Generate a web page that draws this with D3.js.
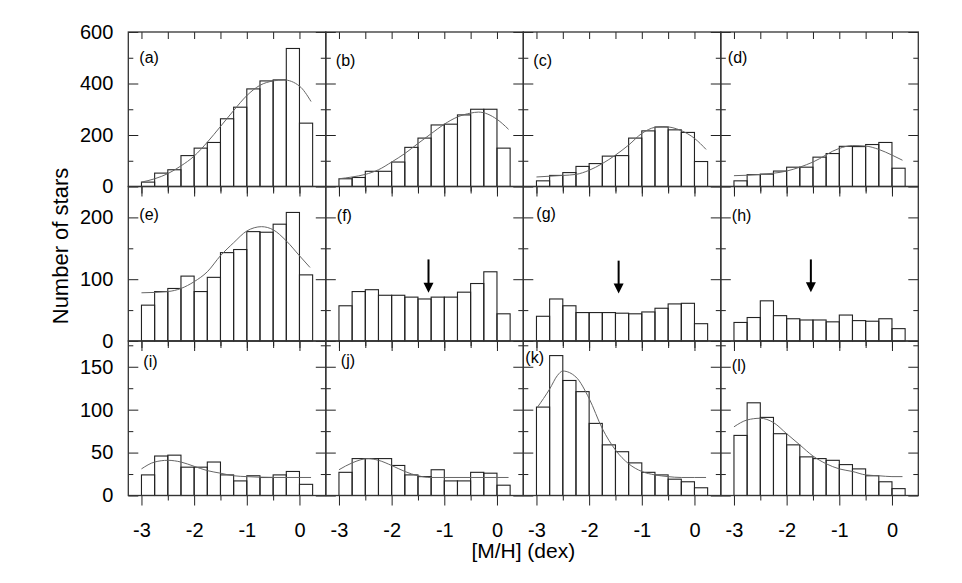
<!DOCTYPE html>
<html>
<head>
<meta charset="utf-8">
<script src="https://cdn.jsdelivr.net/npm/d3@7"></script>
<style>
  body { margin: 0; background: #fff; }
  svg { display: block; font-family: "Liberation Sans", Arial, sans-serif; }
</style>
</head>
<body>
<div id="chart"></div>
<script>
// bins of 0.25 dex, left edges
var binLo = [-3, -2.75, -2.5, -2.25, -2, -1.75, -1.5, -1.25, -1, -0.75, -0.5, -0.25, 0];
var binW = 0.25;
var panelIds = ["a", "b", "c", "d", "e", "f", "g", "h", "i", "j", "k", "l"];

// counts per bin
var countsA = [17, 52, 65, 120, 149, 171, 263, 308, 379, 410, 414, 536, 246];
var countsB = [30, 35, 59, 59, 95, 152, 188, 239, 242, 278, 300, 300, 149];
var countsC = [22, 43, 54, 78, 89, 118, 120, 188, 216, 231, 220, 210, 97];
var countsD = [22, 46, 48, 60, 75, 75, 114, 128, 156, 155, 163, 171, 71];
var countsE = [58, 80, 85, 105, 80, 103, 143, 148, 177, 176, 189, 208, 107];
var countsF = [57, 80, 83, 74, 74, 71, 68, 71, 71, 79, 93, 112, 44];
var countsG = [40, 68, 57, 46, 46, 46, 45, 44, 47, 53, 60, 61, 28];
var countsH = [30, 38, 65, 41, 36, 34, 34, 31, 42, 33, 32, 36, 20];
var countsI = [24, 46, 47, 33, 33, 39, 24, 17, 23, 21, 24, 28, 13];
var countsJ = [27, 43, 43, 43, 35, 24, 22, 30, 17, 17, 27, 26, 12];
var countsK = [103, 163, 134, 121, 84, 59, 51, 38, 27, 24, 19, 16, 9];
var countsL = [70, 108, 91, 72, 59, 45, 43, 41, 36, 31, 23, 16, 8];

// fitted curves, [M/H] vs number
var fitA = [[-3, 17], [-2.75, 30], [-2.5, 50], [-2.25, 80], [-2, 118], [-1.75, 172], [-1.5, 233], [-1.25, 295], [-1, 353], [-0.75, 393], [-0.5, 410], [-0.3, 414], [0, 390], [0.22, 330]];
var fitB = [[-3, 30], [-2.75, 37], [-2.5, 47], [-2.25, 65], [-2, 95], [-1.75, 128], [-1.5, 167], [-1.25, 205], [-1, 242], [-0.75, 270], [-0.5, 285], [-0.35, 289], [0, 261], [0.22, 222]];
var fitC = [[-3, 37], [-2.5, 43], [-2.25, 47], [-2, 63], [-1.75, 89], [-1.5, 122], [-1.25, 161], [-1, 206], [-0.75, 230], [-0.6, 233], [-0.25, 217], [0, 187], [0.22, 144]];
var fitD = [[-3, 42], [-2.5, 47], [-2, 60], [-1.5, 95], [-1, 148], [-0.75, 159], [-0.5, 157], [-0.25, 144], [0, 122], [0.2, 102]];
var fitE = [[-3, 78], [-2.5, 80], [-2.25, 85], [-2, 96], [-1.75, 112], [-1.5, 138], [-1.25, 159], [-1, 178], [-0.72, 185], [-0.5, 180], [-0.25, 162], [0, 138], [0.2, 119]];
var fitI = [[-3, 31], [-2.75, 39], [-2.5, 41], [-2.25, 39], [-2, 34], [-1.75, 29], [-1.5, 26], [-1.25, 23], [-1, 22], [-0.5, 21], [0, 21], [0.22, 21]];
var fitJ = [[-3, 30], [-2.75, 38], [-2.45, 43], [-2.25, 41], [-2, 35], [-1.75, 28], [-1.5, 23], [-1.25, 21], [-1, 21], [0, 21], [0.22, 21]];
var fitK = [[-2.98, 103], [-2.75, 124], [-2.6, 140], [-2.5, 145], [-2.25, 138], [-2, 113], [-1.75, 78], [-1.5, 53], [-1.25, 37], [-1, 28], [-0.75, 24], [-0.5, 22], [-0.25, 21], [0, 21], [0.22, 21]];
var fitL = [[-3, 80], [-2.75, 88], [-2.5, 90], [-2.25, 85], [-2, 72], [-1.75, 59], [-1.5, 46], [-1.25, 37], [-1, 31], [-0.75, 28], [-0.5, 24], [-0.25, 23], [0, 22], [0.2, 22]];

// arrows in panels f, g, h: x position, top and tip values
var arrowPanels = ["f", "g", "h"];
var arrowX = [-1.30, -1.44, -1.54];
var arrowTop = [132, 130, 132];
var arrowTip = [78, 77, 79];

// axes
var xDomain = [-3.25, 0.5];
var xMajor = [-3, -2, -1, 0];
var xMinor = [-2.5, -1.5, -0.5];
var rowMax = [600, 250, 180];
var rowMajor = [[0, 200, 400, 600], [0, 100, 200], [0, 50, 100, 150]];
var rowMinor = [[100, 300, 500], [50, 150], [25, 75, 125, 175]];

var countList = [countsA, countsB, countsC, countsD, countsE, countsF, countsG, countsH, countsI, countsJ, countsK, countsL];
var fitList = [fitA, fitB, fitC, fitD, fitE, null, null, null, fitI, fitJ, fitK, fitL];
var panels = panelIds.map(function(id, i) {
  return { id: id, counts: countList[i], fit: fitList[i] };
});

// layout
var left0 = 128.3, top0 = 32, pw = 197.5, ph = 154.5;
var labelDx = [11, 10, 10, 7, 11, 11, 13, 11, 15, 15, 2, 11];
var labelDy = [25, 28, 28, 25.5, 27.5, 29, 27, 29, 20.5, 19.5, 16.5, 24];
var ink = "#222";

var svg = d3.select("#chart").append("svg")
  .attr("width", 962)
  .attr("height", 583);

var x = d3.scaleLinear().domain(xDomain).range([0, pw]);

function addAxis(g, axis, tf) {
  var a = g.append("g").attr("transform", tf || null).call(axis);
  a.select(".domain").remove();
  a.attr("font-size", 20).attr("font-family", null);
  a.selectAll("line").attr("stroke", ink).attr("stroke-width", 1);
  a.selectAll("text").attr("fill", "#000");
  return a;
}

panels.forEach(function(p, i) {
  var row = Math.floor(i / 4), col = i % 4;
  var y = d3.scaleLinear().domain([0, rowMax[row]]).range([ph, 0]);
  var g = svg.append("g")
    .attr("transform", `translate(${left0 + col * pw}, ${top0 + row * ph})`);

  // histogram bars
  g.selectAll(".bar")
    .data(p.counts)
    .enter()
    .append("rect")
    .attr("class", "bar")
    .attr("x", (d, j) => x(binLo[j]))
    .attr("y", d => y(d))
    .attr("width", x(binLo[0] + binW) - x(binLo[0]))
    .attr("height", d => ph - y(d))
    .attr("fill", "none")
    .attr("stroke", ink)
    .attr("stroke-width", 1.1);

  // fitted curve
  if (p.fit) {
    g.append("path")
      .datum(p.fit)
      .attr("d", d3.line().x(d => x(d[0])).y(d => y(d[1])).curve(d3.curveMonotoneX))
      .attr("fill", "none")
      .attr("stroke", "#666")
      .attr("stroke-width", 1);
  }

  // arrow
  var k = arrowPanels.indexOf(p.id);
  if (k >= 0) {
    var ax = x(arrowX[k]), tipY = y(arrowTip[k]);
    g.append("line")
      .attr("x1", ax).attr("x2", ax)
      .attr("y1", y(arrowTop[k])).attr("y2", tipY - 8)
      .attr("stroke", "#000").attr("stroke-width", 2);
    g.append("path")
      .attr("d", `M${ax - 5},${tipY - 10}L${ax + 5},${tipY - 10}L${ax},${tipY}Z`)
      .attr("fill", "#000");
  }

  // bottom ticks (outward), labels only on the last row
  addAxis(g, d3.axisBottom(x).tickValues(xMajor).tickSize(10).tickSizeOuter(0).tickPadding(17)
    .tickFormat(row === 2 ? (d => String(d)) : ""), `translate(0, ${ph})`);
  addAxis(g, d3.axisBottom(x).tickValues(xMinor).tickSize(5).tickSizeOuter(0).tickFormat(""), `translate(0, ${ph})`);
  // top ticks (inward)
  addAxis(g, d3.axisTop(x).tickValues(xMajor.concat(xMinor)).tickSize(-7).tickSizeOuter(0).tickFormat(""));

  // left ticks (inward), labels only on the first column
  addAxis(g, d3.axisLeft(y).tickValues(rowMajor[row]).tickSize(-10).tickSizeOuter(0).tickPadding(15)
    .tickFormat(col === 0 ? (d => String(d)) : ""));
  addAxis(g, d3.axisLeft(y).tickValues(rowMinor[row]).tickSize(-5).tickSizeOuter(0).tickFormat(""));
  // right ticks (inward)
  addAxis(g, d3.axisRight(y).tickValues(rowMajor[row]).tickSize(-10).tickSizeOuter(0).tickFormat(""), `translate(${pw}, 0)`);
  addAxis(g, d3.axisRight(y).tickValues(rowMinor[row]).tickSize(-5).tickSizeOuter(0).tickFormat(""), `translate(${pw}, 0)`);

  // frame
  g.append("rect")
    .attr("width", pw)
    .attr("height", ph)
    .attr("fill", "none")
    .attr("stroke", "#333")
    .attr("stroke-width", 1.3);

  // panel label
  g.append("text")
    .attr("x", labelDx[i])
    .attr("y", labelDy[i])
    .attr("dy", "0.35em")
    .attr("font-size", 16)
    .text("(" + p.id + ")");
});

// axis titles
svg.append("text")
  .attr("transform", `translate(60, 246) rotate(-90)`)
  .attr("text-anchor", "middle")
  .attr("dy", "0.35em")
  .attr("font-size", 22)
  .text("Number of stars");

svg.append("text")
  .attr("x", left0 + 2 * pw)
  .attr("y", 551)
  .attr("text-anchor", "middle")
  .attr("dy", "0.35em")
  .attr("font-size", 21)
  .text("[M/H] (dex)");
</script>
</body>
</html>
